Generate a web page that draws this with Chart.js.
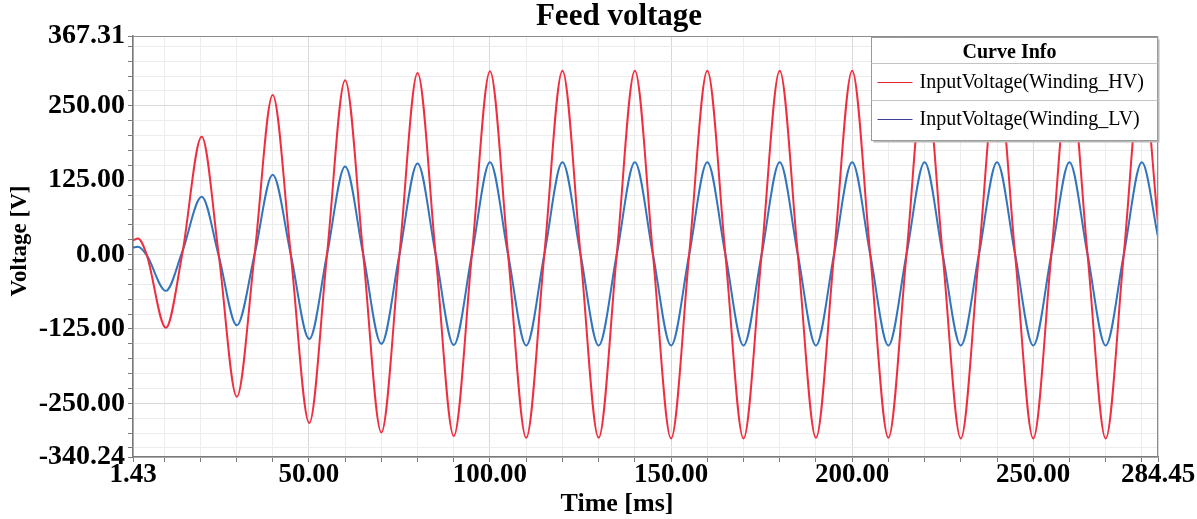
<!DOCTYPE html>
<html>
<head>
<meta charset="utf-8">
<title>Feed voltage</title>
<script src="https://cdn.jsdelivr.net/npm/chart.js@4.4.0/dist/chart.umd.min.js"></script>
<style>
body { margin:0; background:#fff; }
#wrap { width:1197px; height:519px; position:relative; }
</style>
</head>
<body>
<div id="wrap"><canvas id="feed"></canvas></div>
<script>
// sample times [ms] (peaks, troughs and zero crossings)
const timeMs = [1.43, 2.8, 5.2, 10.5, 15, 20.4, 25.1, 30.1,
    35, 40, 45, 50.1, 55, 60, 65, 70, 75, 80, 85, 90, 95, 100,
    105, 110, 115, 120, 125, 130, 135, 140, 145, 150, 155, 160, 165, 170, 175, 180,
    185, 190, 195, 200, 205, 210, 215, 220, 225, 230, 235, 240, 245, 250, 255, 260,
    265, 270, 275, 280, 284.45]
// InputVoltage(Winding_HV) [V]
const hvVoltage = [24, 27, 0, -123, 0, 198, 0, -239,
    0, 268, 0, -283, 0, 293, 0, -299, 0, 305, 0, -305, 0, 308,
    0, -308, 0, 309, 0, -308, 0, 309, 0, -309, 0, 309, 0, -309, 0, 309,
    0, -308, 0, 309, 0, -308, 0, 309, 0, -309, 0, 309, 0, -309, 0, 309,
    0, -309, 0, 309, 53]
// InputVoltage(Winding_LV) [V]
const lvVoltage = [12, 13, -1, -61, 4, 97, -2, -119,
    0, 134, 0, -142, 0, 148, 0, -150, 0, 153, 0, -152, 0, 155,
    0, -153, 0, 155, 0, -153, 0, 155, 0, -153, 0, 155, 0, -153, 0, 155,
    0, -153, 0, 155, 0, -153, 0, 155, 0, -153, 0, 155, 0, -153, 0, 155,
    0, -153, 0, 155, 30]

const seriesNames = ['InputVoltage(Winding_HV)', 'InputVoltage(Winding_LV)']
const lineColors = ['rgb(240,46,64)', 'rgb(50,117,189)']
const legendColors = ['rgb(232,36,48)', 'rgb(62,62,150)']

// labelled ticks
const xLabelTicks = [1.43, 50, 100, 150, 200, 250, 284.45]
const yLabelTicks = [-340.24, -250, -125, 0, 125, 250, 367.31]

const SERIF = "'Liberation Serif', 'Times New Roman', serif"

function points(values){
    return timeMs.map((t, i) => ({x: t, y: values[i]}))
}
function isLabel(list, v){
    return list.some(l => Math.abs(l - v) < 1e-6)
}
function buildTicks(min, max, step){
    /* ticks at every step plus both ends of the range */
    const ticks = [{value: min}]
    for (let v = Math.ceil(min / step) * step; v < max - 1e-6; v += step) {
        if (v > min + 1e-6) ticks.push({value: v})
    }
    ticks.push({value: max})
    return ticks
}

const decorations = {
    id: 'decorations',
    afterDraw(chart){
        const ctx = chart.ctx
        const a = chart.chartArea
        ctx.save()
        // top and right frame lines
        ctx.strokeStyle = '#8c8c8c'
        ctx.lineWidth = 1
        ctx.beginPath()
        ctx.moveTo(a.left, a.top + 0.5)
        ctx.lineTo(a.right - 0.5, a.top + 0.5)
        ctx.lineTo(a.right - 0.5, a.bottom)
        ctx.stroke()

        // titles
        ctx.fillStyle = '#000'
        ctx.textAlign = 'center'
        ctx.textBaseline = 'middle'
        ctx.font = 'bold 31px ' + SERIF
        ctx.fillText('Feed voltage', 619, 17)
        ctx.font = 'bold 26px ' + SERIF
        ctx.fillText('Time [ms]', 617, 504)
        ctx.save()
        ctx.translate(20, 241)
        ctx.rotate(-Math.PI / 2)
        ctx.font = 'bold 23px ' + SERIF
        ctx.fillText('Voltage [V]', 0, 0)
        ctx.restore()

        // legend box "Curve Info"
        const w = 286, h = 103
        const x0 = a.right - w - 0.5, y0 = a.top + 1.5
        ctx.fillStyle = '#b8b8b8'
        ctx.fillRect(x0 + 2, y0 + 2, w, h)
        ctx.fillStyle = '#fff'
        ctx.fillRect(x0, y0, w, h)
        ctx.strokeStyle = '#9a9a9a'
        ctx.strokeRect(x0, y0, w, h)
        ctx.beginPath()
        ctx.moveTo(x0, y0 + 26); ctx.lineTo(x0 + w, y0 + 26)
        ctx.moveTo(x0, y0 + 63); ctx.lineTo(x0 + w, y0 + 63)
        ctx.strokeStyle = '#c4c4c4'
        ctx.stroke()
        ctx.fillStyle = '#000'
        ctx.font = 'bold 20px ' + SERIF
        ctx.fillText('Curve Info', x0 + 138, y0 + 15)
        ctx.textAlign = 'left'
        ctx.font = '20px ' + SERIF
        seriesNames.forEach((name, i) => {
            const yy = y0 + 45 + i * 37
            ctx.strokeStyle = legendColors[i]
            ctx.lineWidth = 1.2
            ctx.beginPath()
            ctx.moveTo(x0 + 6, yy); ctx.lineTo(x0 + 41, yy)
            ctx.stroke()
            ctx.fillText(name, x0 + 48, yy)
        })
        ctx.restore()
    }
}

new Chart(document.getElementById('feed'), {
    type: 'line',
    data: {
        datasets: [
            {
                label: seriesNames[0],
                data: points(hvVoltage),
                borderColor: lineColors[0],
                borderWidth: 2,
                pointRadius: 0,
                cubicInterpolationMode: 'monotone',
            },
            {
                label: seriesNames[1],
                data: points(lvVoltage),
                borderColor: lineColors[1],
                borderWidth: 2,
                pointRadius: 0,
                cubicInterpolationMode: 'monotone',
            },
        ]
    },
    options: {
        responsive: true,
        maintainAspectRatio: false,
        animation: false,
        layout: {padding: {top: 36, right: 39, left: 0, bottom: 0}},
        plugins: {legend: {display: false}, title: {display: false}, tooltip: {enabled: false}},
        scales: {
            x: {
                type: 'linear',
                min: 1.43,
                max: 284.45,
                afterBuildTicks: (scale) => { scale.ticks = buildTicks(1.43, 284.45, 10) },
                afterFit: (scale) => { scale.height = 62 },
                ticks: {
                    autoSkip: false,
                    maxRotation: 0,
                    padding: -3,
                    color: '#000',
                    font: {family: SERIF, size: 27, weight: 'bold'},
                    callback: (v) => isLabel(xLabelTicks, v) ? v.toFixed(2) : '',
                },
                grid: {
                    color: (c) => isLabel(xLabelTicks, c.tick.value) ? '#d9d9d9' : '#ececec',
                    tickColor: '#7a7a7a',
                    tickLength: 5,
                },
                border: {color: '#7a7a7a', width: 1.5},
            },
            y: {
                type: 'linear',
                min: -340.24,
                max: 367.31,
                afterBuildTicks: (scale) => { scale.ticks = buildTicks(-340.24, 367.31, 25) },
                afterFit: (scale) => { scale.width = 133 },
                ticks: {
                    autoSkip: false,
                    padding: 3,
                    color: '#000',
                    font: {family: SERIF, size: 28, weight: 'bold'},
                    callback: (v) => isLabel(yLabelTicks, v) ? v.toFixed(2) : '',
                },
                grid: {
                    color: (c) => isLabel(yLabelTicks, c.tick.value) ? '#d9d9d9' : '#ececec',
                    tickColor: '#7a7a7a',
                    tickLength: 5,
                },
                border: {color: '#7a7a7a', width: 1.5},
            },
        }
    },
    plugins: [decorations]
})
</script>
</body>
</html>
